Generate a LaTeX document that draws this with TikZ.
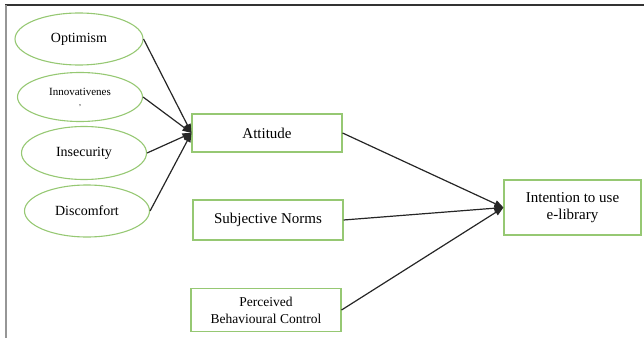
\documentclass[tikz,border=0pt]{standalone}
\usepackage{fontspec}
\setmainfont{Liberation Serif}
\usetikzlibrary{shapes.geometric,arrows.meta}
\definecolor{boxgreen}{RGB}{150,200,115}
\definecolor{framegray}{RGB}{150,150,150}
\tikzset{
  oval/.style={ellipse, draw=boxgreen, line width=1.1pt, inner sep=0pt, font=\fontsize{14}{16}\selectfont},
  factor/.style={rectangle, draw=boxgreen, line width=1.1pt, inner sep=0pt, align=center, font=\fontsize{15}{17}\selectfont},
  link/.style={line width=1.2pt, draw=black!85, -{Triangle[length=9pt,width=7pt]}}
}
\begin{document}
\begin{tikzpicture}[x=1pt,y=-1pt]
\useasboundingbox (0,0) rectangle (644,339);
% frame
\draw[line width=1.6pt, black!80] (5,5) -- (644,5);
\draw[line width=2pt, framegray] (5.5,5) -- (5.5,338);
% ellipses
\node[oval, minimum width=128, minimum height=52] (opt) at (79,39) {Optimism};
\node[oval, minimum width=125, minimum height=49, align=center, font=\fontsize{11}{11}\selectfont] (inn) at (80,97) {Innovativenes\\[-1pt]{\fontsize{8}{8}\selectfont ,}};
\node[oval, minimum width=125, minimum height=53] (ins) at (84,153) {Insecurity};
\node[oval, minimum width=125, minimum height=52] (dis) at (87,211) {Discomfort};
% boxes
\node[factor, minimum width=150, minimum height=38] (att) at (267,133) {Attitude};
\node[factor, minimum width=150, minimum height=40] (sn) at (268,220) {Subjective Norms};
\node[factor, minimum width=150, minimum height=43, font=\fontsize{13.5}{17}\selectfont] (pbc) at (266,310) {Perceived\\Behavioural Control};
\node[factor, minimum width=137, minimum height=55] (int) at (572.5,207.5) {Intention to use\\e-library};
% connectors
\draw[link] (opt.east) -- (att.west);
\draw[link] (inn.east) -- (att.west);
\draw[link] (ins.east) -- (att.west);
\draw[link] (dis.east) -- (att.west);
\draw[link] (att.east) -- (int.west);
\draw[link] (sn.east) -- (int.west);
\draw[link] (pbc.east) -- (int.west);
\end{tikzpicture}
\end{document}
